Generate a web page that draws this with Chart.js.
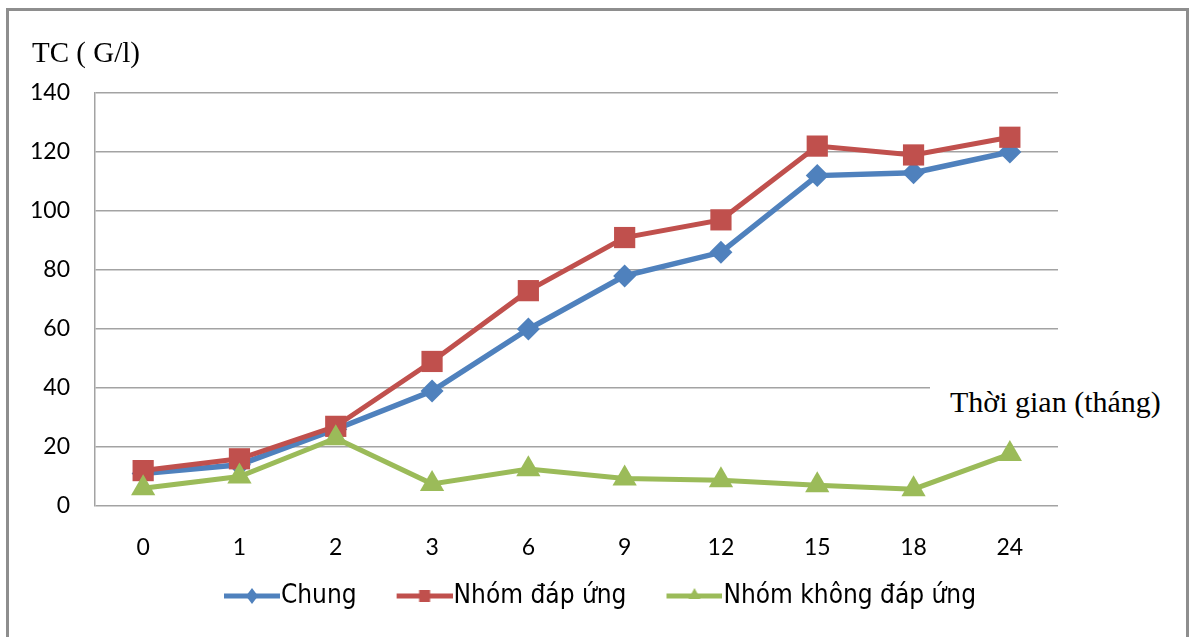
<!DOCTYPE html>
<html>
<head>
<meta charset="utf-8">
<script src="https://cdn.jsdelivr.net/npm/chart.js@4.4.1/dist/chart.umd.min.js"></script>
<style>
  html, body { margin: 0; padding: 0; background: #ffffff; overflow: hidden; }
  #wrap { position: relative; width: 1192px; height: 637px; overflow: hidden; background: #fff; }
  #frame { position: absolute; left: 6px; top: 8px; width: 1177px; height: 700px; border: 3px solid #8e8e8e; box-sizing: content-box; pointer-events: none; }
  canvas { position: absolute; left: 0; top: 0; }
  .lbl { position: absolute; font-family: 'Liberation Serif', 'Times New Roman', serif; color: #000; white-space: nowrap; }
  #ytitle { left: 32px; top: 34px; font-size: 29px; line-height: 36px; }
  #xtitle { left: 930px; top: 383px; font-size: 30px; line-height: 38px; padding-left: 20px; width: 220px; background: #fff; }
</style>
</head>
<body>
<div id="wrap">
  <div id="frame"></div>
  <canvas id="c" width="1192" height="637"></canvas>
  <div class="lbl" id="ytitle">TC ( G/l)</div>
  <div class="lbl" id="xtitle">Thời gian (tháng)</div>
</div>
<script>
const categories = ['0', '1', '2', '3', '6', '9', '12', '15', '18', '24'];
const seriesNames = ['Chung', 'Nhóm đáp ứng', 'Nhóm không đáp ứng'];
const chung = [11, 14, 26, 39, 60, 78, 86, 112, 113, 120];
const nhomDapUng = [12, 16, 27, 49, 73, 91, 97, 122, 119, 125];
const nhomKhongDapUng = [6, 10, 23, 7.5, 12.5, 9.3, 8.7, 7, 5.7, 17.6];
const yTicks = [0, 20, 40, 60, 80, 100, 120, 140];

const colors = ['#4F81BD', '#C0504D', '#9BBB59'];
const styles = ['rectRot', 'rect', 'triangle'];

// legend icon: transparent left part + line sample with small marker on the right 56px
function legendIcon(color, style) {
  const cv = document.createElement('canvas');
  const W = 98, L = 56, x0 = W - L, cx = x0 + 28;
  cv.width = W; cv.height = 24;
  const ctx = cv.getContext('2d');
  ctx.strokeStyle = color; ctx.lineWidth = 5;
  ctx.beginPath(); ctx.moveTo(x0, 12); ctx.lineTo(W, 12); ctx.stroke();
  ctx.fillStyle = color;
  ctx.beginPath();
  if (style === 'rectRot') {
    ctx.moveTo(cx, 4); ctx.lineTo(cx + 6, 12); ctx.lineTo(cx, 20); ctx.lineTo(cx - 6, 12);
  } else if (style === 'rect') {
    ctx.rect(cx - 5.5, 6, 11, 12);
  } else {
    ctx.moveTo(cx, 4); ctx.lineTo(cx + 6, 15); ctx.lineTo(cx - 6, 15);
  }
  ctx.closePath(); ctx.fill();
  return cv;
}
const icons = colors.map((c, i) => legendIcon(c, styles[i]));

const tickFont = { family: "Lato, 'Open Sans', sans-serif", size: 23 };

new Chart(document.getElementById('c'), {
  type: 'line',
  data: {
    labels: categories,
    datasets: [
      { label: seriesNames[0], data: chung, borderColor: colors[0], backgroundColor: colors[0], borderWidth: 5.5, pointStyle: 'rectRot', pointRadius: 11.5, pointBorderWidth: 0, order: 3 },
      { label: seriesNames[1], data: nhomDapUng, borderColor: colors[1], backgroundColor: colors[1], borderWidth: 5, pointStyle: 'rect', pointRadius: 15, pointBorderWidth: 0, order: 2 },
      { label: seriesNames[2], data: nhomKhongDapUng, borderColor: colors[2], backgroundColor: colors[2], borderWidth: 5, pointStyle: 'triangle', pointRadius: 14, pointBorderWidth: 0, order: 1 }
    ]
  },
  options: {
    responsive: false,
    animation: false,
    devicePixelRatio: 1,
    clip: false,
    layout: { padding: { left: 0, right: 22, top: 93, bottom: 18 } },
    elements: { line: { tension: 0 } },
    plugins: {
      tooltip: { enabled: false },
      legend: {
        position: 'bottom',
        labels: {
          usePointStyle: true,
          pointStyleWidth: 74,
          padding: 10,
          color: '#000',
          font: { family: "'Liberation Sans Narrow', 'DejaVu Sans Condensed', 'Liberation Sans', sans-serif", size: 26 },
          generateLabels: () => seriesNames.map((n, i) => ({
            text: n, fillStyle: colors[i], strokeStyle: colors[i], lineWidth: 0,
            pointStyle: icons[i], hidden: false, datasetIndex: i, fontColor: '#000'
          }))
        }
      }
    },
    scales: {
      x: {
        type: 'category',
        offset: true,
        grid: { display: false, drawTicks: false },
        border: { display: false },
        ticks: { color: '#000', font: tickFont, padding: 28, maxRotation: 0, autoSkip: false },
        afterFit: (s) => { s.height = 67; }
      },
      y: {
        min: 0, max: 140,
        afterBuildTicks: (s) => { s.ticks = yTicks.map(v => ({ value: v })); },
        grid: { color: '#a3a3a3', lineWidth: 1.5, drawTicks: false },
        border: { display: true, color: '#a3a3a3', width: 1.5 },
        ticks: { color: '#000', font: tickFont, padding: 25 },
        afterFit: (s) => { s.width = 95; }
      },
      yR: {
        position: 'right',
        display: true,
        grid: { display: false, drawTicks: false },
        border: { display: false },
        ticks: { display: false },
        afterFit: (s) => { s.width = 112; }
      }
    }
  }
});
</script>
</body>
</html>
